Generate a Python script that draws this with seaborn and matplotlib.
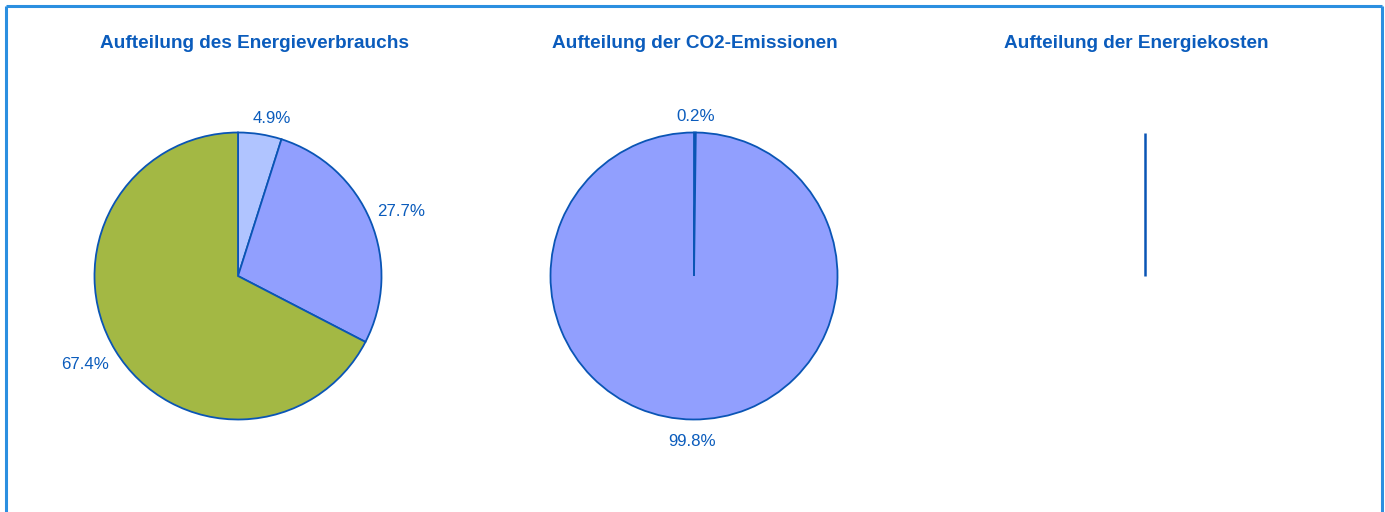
import matplotlib
matplotlib.use("Agg")
import matplotlib.pyplot as plt
from matplotlib.lines import Line2D
import numpy as np
import seaborn as sns

# ---- data ----
titles = ["Aufteilung des Energieverbrauchs",
          "Aufteilung der CO2-Emissionen",
          "Aufteilung der Energiekosten"]
energy_values = [4.9, 27.7, 67.4]
co2_values = [0.2, 99.8]
cost_values = [0.0, 0.0, 0.0]

energy_colors = ["#b0c4ff", "#919ffe", "#a3b844"]
co2_colors = ["#0a55b5", "#919ffe"]
cost_colors = ["#b0c4ff", "#919ffe", "#a3b844"]

sns.set_theme(style="white")
plt.rcParams["font.family"] = ["Liberation Sans", "DejaVu Sans"]

TXT = "#0b5cbc"
EDGE = "#0a55b5"
FRAME = "#2b8fe0"

W, H = 1385, 512
fig = plt.figure(figsize=(W / 100, H / 100), dpi=100)
fig.patch.set_facecolor("white")

# frame (open at bottom)
for xs, ys in [([5.8, 5.8], [-5, 506.2]), ([5.8, 1382], [506.2, 506.2]), ([1382, 1382], [506.2, -5])]:
    fig.add_artist(Line2D([x / W for x in xs], [y / H for y in ys], color=FRAME, lw=2.2,
                          transform=fig.transFigure, solid_capstyle="butt"))

centers = [238, 694, 1145]
title_x = [254, 695, 1136]
R = 143.5
S = 400
datasets = [(energy_values, energy_colors), (co2_values, co2_colors), (cost_values, cost_colors)]

for i, (vals, cols) in enumerate(datasets):
    cx = centers[i]
    ax = fig.add_axes([(cx - S / 2) / W, (H - 276 - S / 2) / H, S / W, S / H])
    lim = S / 2 / R
    if sum(vals) > 0:
        wedges, _ = ax.pie(vals, colors=cols, startangle=90, counterclock=False,
                           wedgeprops=dict(edgecolor=EDGE, linewidth=1.3))
        for w, v in zip(wedges, vals):
            ang = np.deg2rad((w.theta1 + w.theta2) / 2)
            c, s = np.cos(ang), np.sin(ang)
            if abs(c) < 0.3:
                k = 1.11 if s > 0 else 1.15
                px, py, ha = 1.4 * k * c, k * s, "center"
            else:
                px, py = 1.05 * c, 1.18 * s
                ha = "left" if c > 0 else "right"
            ax.text(px, py, f"{v:.1f}%", ha=ha, va="center", color=TXT, fontsize=12.2)
    else:
        ax.plot([0, 0], [0, 1], color=EDGE, lw=1.8, solid_capstyle="butt")
    ax.set_xlim(-lim, lim)
    ax.set_ylim(-lim, lim)
    ax.set_aspect("equal")
    ax.axis("off")
    fig.text(title_x[i] / W, 1 - 43.5 / H, titles[i], ha="center", va="center",
             color=TXT, fontsize=13.7, fontweight="bold")

fig.savefig("out.png", dpi=100, facecolor="white")
